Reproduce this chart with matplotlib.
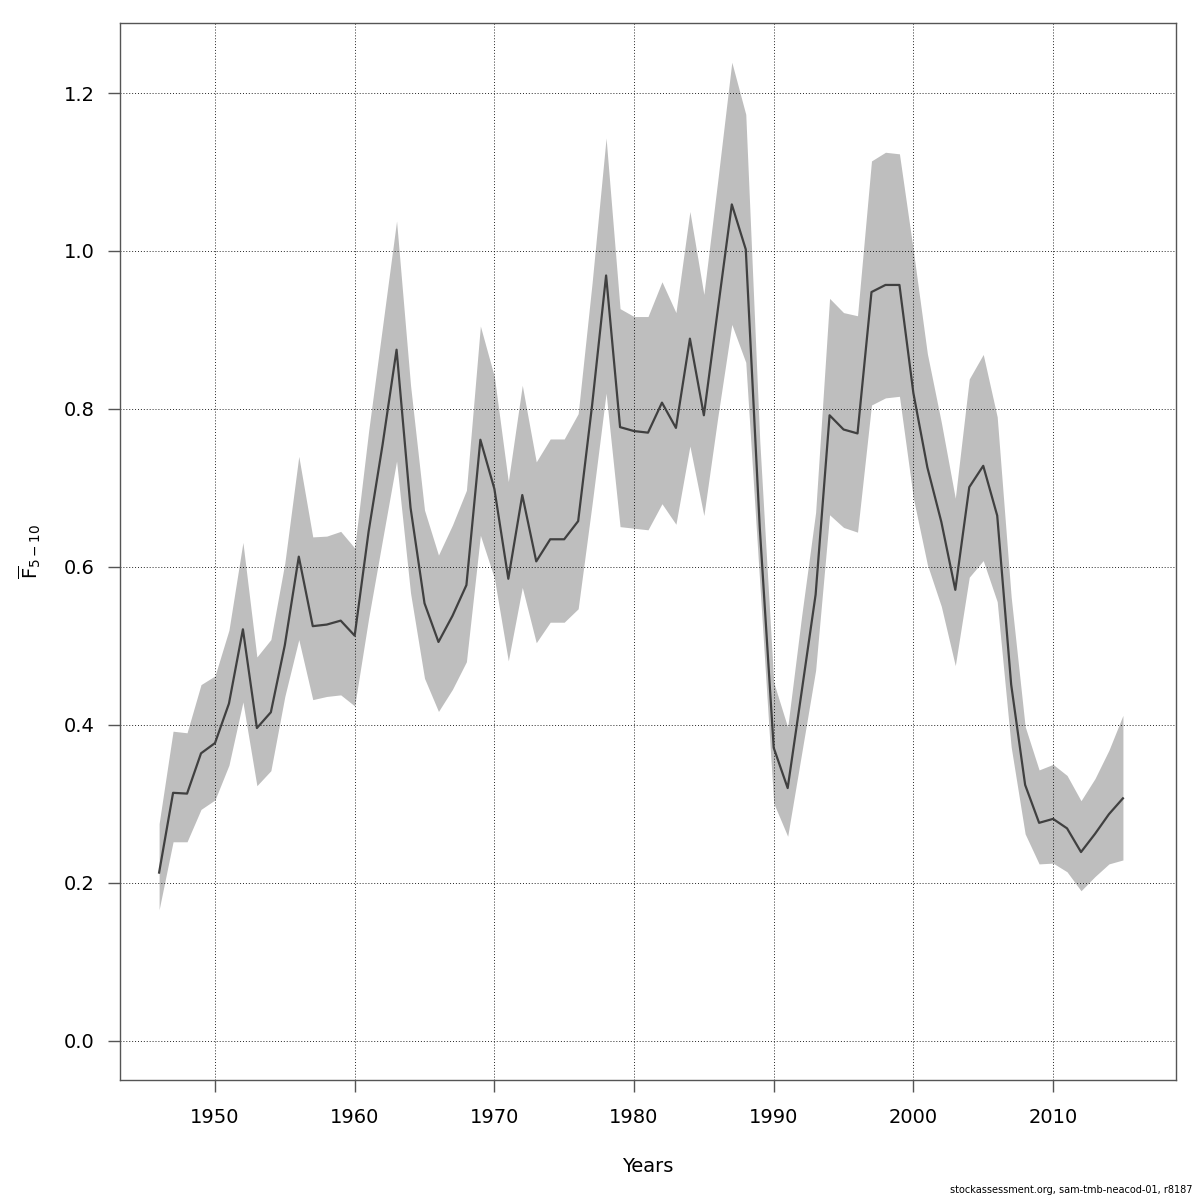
import matplotlib
matplotlib.use("Agg")
import matplotlib.pyplot as plt

# Average fishing mortality F(5-10) with confidence band
years = list(range(1946, 2016))

fbar = [0.213, 0.314, 0.313, 0.364, 0.377, 0.427, 0.521, 0.396, 0.416, 0.501,
        0.613, 0.525, 0.527, 0.532, 0.513, 0.645, 0.755, 0.875, 0.675, 0.554,
        0.505, 0.538, 0.577, 0.761, 0.699, 0.585, 0.691, 0.607, 0.635, 0.635,
        0.658, 0.805, 0.969, 0.777, 0.772, 0.770, 0.808, 0.776, 0.889, 0.792,
        0.926, 1.059, 1.002, 0.650, 0.371, 0.320, 0.442, 0.565, 0.792, 0.774,
        0.769, 0.948, 0.957, 0.957, 0.820, 0.726, 0.657, 0.571, 0.701, 0.728,
        0.665, 0.451, 0.324, 0.276, 0.281, 0.269, 0.239, 0.262, 0.287, 0.307]

fbar_hi = [0.275, 0.392, 0.390, 0.451, 0.462, 0.520, 0.631, 0.486, 0.508, 0.605,
           0.740, 0.638, 0.639, 0.645, 0.624, 0.772, 0.905, 1.038, 0.830, 0.672,
           0.615, 0.653, 0.697, 0.905, 0.841, 0.708, 0.830, 0.733, 0.762, 0.762,
           0.794, 0.960, 1.143, 0.927, 0.917, 0.917, 0.961, 0.922, 1.050, 0.945,
           1.090, 1.239, 1.173, 0.760, 0.454, 0.397, 0.538, 0.669, 0.940, 0.922,
           0.918, 1.114, 1.125, 1.123, 1.000, 0.870, 0.783, 0.687, 0.838, 0.869,
           0.790, 0.562, 0.398, 0.343, 0.350, 0.336, 0.304, 0.332, 0.368, 0.412]

fbar_lo = [0.166, 0.252, 0.252, 0.293, 0.305, 0.349, 0.429, 0.323, 0.342, 0.436,
           0.508, 0.432, 0.436, 0.438, 0.424, 0.535, 0.635, 0.734, 0.567, 0.459,
           0.417, 0.445, 0.480, 0.640, 0.586, 0.481, 0.574, 0.504, 0.530, 0.530,
           0.547, 0.680, 0.820, 0.651, 0.649, 0.647, 0.680, 0.654, 0.753, 0.665,
           0.790, 0.907, 0.859, 0.580, 0.301, 0.259, 0.364, 0.469, 0.666, 0.650,
           0.644, 0.805, 0.814, 0.816, 0.687, 0.603, 0.550, 0.475, 0.587, 0.608,
           0.556, 0.372, 0.262, 0.224, 0.225, 0.214, 0.190, 0.208, 0.224, 0.229]

xticks = [1950, 1960, 1970, 1980, 1990, 2000, 2010]
yticks = [0.0, 0.2, 0.4, 0.6, 0.8, 1.0, 1.2]

fig = plt.figure(figsize=(12, 12), dpi=100)
ax = fig.add_axes([0.1, 0.1, 0.88, 0.8808])

ax.fill_between(years, fbar_lo, fbar_hi, color="#bebebe", linewidth=0, zorder=1)
ax.plot(years, fbar, color="#404040", linewidth=1.6, zorder=3)

ax.set_xlim(1943.2, 2018.8)
ax.set_ylim(-0.0496, 1.2886)
ax.set_xticks(xticks)
ax.set_yticks(yticks)
ax.set_yticklabels([f"{v:.1f}" for v in yticks])

# R-style dotted grid
ax.grid(True, color="black", linestyle=(0, (1, 2)), linewidth=0.7, alpha=0.85, zorder=2)

for s in ax.spines.values():
    s.set_color("#555555")
    s.set_linewidth(1.0)

ax.tick_params(direction="out", length=8.6, width=1.0, color="#555555",
               labelsize=14, pad=9.5)
ax.tick_params(axis="x", pad=11.5)

ax.set_xlabel("Years", fontsize=14, labelpad=22)
ax.set_ylabel(r"$\overline{\mathrm{F}}_{5-10}$", fontsize=14, labelpad=15)

fig.text(0.994, 0.004, "stockassessment.org, sam-tmb-neacod-01, r8187",
         ha="right", va="bottom", fontsize=7)

fig.savefig("out.png", dpi=100)
